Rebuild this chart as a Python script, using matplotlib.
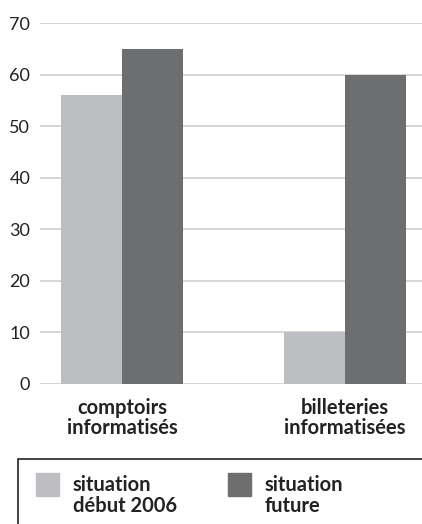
import matplotlib
matplotlib.use("Agg")
import matplotlib.pyplot as plt
from matplotlib.patches import Rectangle
import numpy as np

categories = ["comptoirs\ninformatisés", "billeteries\ninformatisées"]
debut_2006 = [56, 10]
future = [65, 60]
series_labels = ["situation\ndébut 2006", "situation\nfuture"]
yticks = [0, 10, 20, 30, 40, 50, 60, 70]

C_LIGHT = "#bdbec2"
C_DARK = "#6d6e70"

plt.rcParams["font.family"] = ["Lato", "DejaVu Sans"]

W, H = 422, 524
fig = plt.figure(figsize=(W / 100, H / 100), dpi=100)
ax = fig.add_axes([40 / W, 1 - 384 / H, (422 - 40) / W, (384 - 23) / H])

x = np.arange(len(categories))
bw = 0.274
ax.bar(x - bw / 2, debut_2006, width=bw, color=C_LIGHT, zorder=2)
ax.bar(x + bw / 2, future, width=bw, color=C_DARK, zorder=2)

ax.set_xlim(-0.368, 1.345)
ax.set_ylim(0, 70)
ax.set_yticks(yticks)
ax.set_yticklabels([str(v) for v in yticks], fontsize=13, color="#222222")
ax.yaxis.grid(True, color="#cfcfcf", linewidth=1.2, zorder=0)
ax.tick_params(axis="y", length=0, pad=7)
ax.set_xticks([])
for s in ax.spines.values():
    s.set_visible(False)

for xi, lab in zip(x, categories):
    ax.text(xi, -2.8, lab, ha="center", va="top", fontsize=14.5,
            fontweight="bold", color="#222222", linespacing=0.95)

# cadre de la légende (ouvert à droite et en bas)
fig.patches.append(Rectangle((18 / W, -0.1), 1, (524 - 459) / H + 0.1,
                             transform=fig.transFigure, fill=False,
                             edgecolor="#222222", linewidth=1.2))
for xs, c, lab in [(36, C_LIGHT, series_labels[0]), (228, C_DARK, series_labels[1])]:
    fig.patches.append(Rectangle((xs / W, 1 - 496 / H), 23 / W, 23 / H,
                                 transform=fig.transFigure, color=c))
    fig.text((xs + 37) / W, 1 - 475 / H, lab, ha="left", va="top", fontsize=14.5,
             fontweight="bold", color="#222222", linespacing=1.05)

fig.savefig("out.png", dpi=100)
